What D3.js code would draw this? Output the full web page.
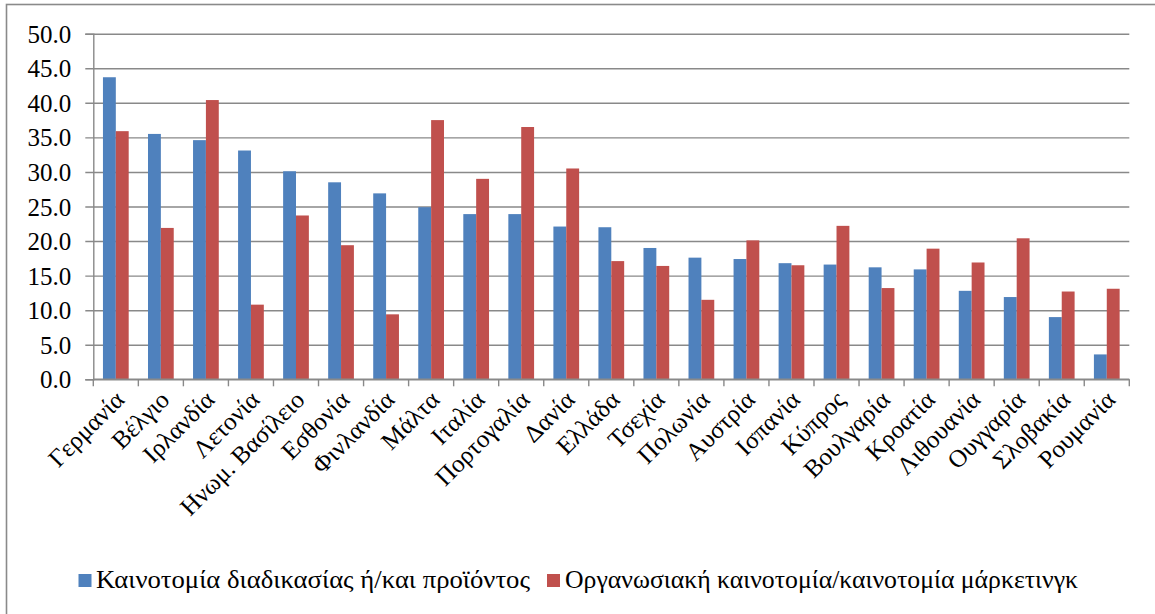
<!doctype html>
<html>
<head>
<meta charset="utf-8">
<script src="https://d3js.org/d3.v7.min.js"></script>
<style>
  body { margin: 0; background: #fff; }
  svg { display: block; }
  svg text { font-family: "Liberation Serif", "Times New Roman", "DejaVu Serif", serif; }
</style>
</head>
<body>
<div id="graph"></div>
<script>
const countries = ["Γερμανία", "Βέλγιο", "Ιρλανδία", "Λετονία", "Ηνωμ. Βασίλειο", "Εσθονία",
  "Φινλανδία", "Μάλτα", "Ιταλία", "Πορτογαλία", "Δανία", "Ελλάδα", "Τσεχία", "Πολωνία",
  "Αυστρία", "Ισπανία", "Κύπρος", "Βουλγαρία", "Κροατία", "Λιθουανία", "Ουγγαρία",
  "Σλοβακία", "Ρουμανία"];
const processProduct = [43.7, 35.5, 34.6, 33.1, 30.1, 28.5, 26.9, 24.9, 23.9, 23.9, 22.1, 22.0,
  19.0, 17.6, 17.4, 16.8, 16.6, 16.2, 15.9, 12.8, 11.9, 9.0, 3.6];
const orgMarketing = [35.9, 21.9, 40.4, 10.8, 23.7, 19.4, 9.4, 37.5, 29.0, 36.5, 30.5, 17.1,
  16.4, 11.5, 20.1, 16.5, 22.2, 13.2, 18.9, 16.9, 20.4, 12.7, 13.1];
const seriesNames = ["Καινοτομία διαδικασίας ή/και προϊόντος", "Οργανωσιακή καινοτομία/καινοτομία μάρκετινγκ"];
const seriesColors = ["#4f81bd", "#c0504d"];
const yTicks = [0, 5, 10, 15, 20, 25, 30, 35, 40, 45, 50];

const W = 1155, H = 614;
const mLeft = 93.3, mRight = 1129.3, mTop = 33.7, mBottom = 379.3;
const width = mRight - mLeft, height = mBottom - mTop;

const svg = d3.select('#graph').append('svg')
  .attr('width', W).attr('height', H);

// outer chart border (runs off the right and bottom edges)
svg.append('rect')
  .attr('x', 6.5).attr('y', 4.5)
  .attr('width', 1300).attr('height', 800)
  .attr('fill', 'none').attr('stroke', '#8a8a8a').attr('stroke-width', 1.6);

const chart = svg.append('g').attr('transform', `translate(${mLeft},${mTop})`);

const y = d3.scaleLinear().domain([0, 50]).range([height, 0]);
const x = d3.scaleBand().domain(countries).range([0, width]).padding(0);
const xs = d3.scaleBand().domain([0, 1]).range([0, x.bandwidth()])
  .paddingInner(0).paddingOuter(0.75);

// y axis with gridlines
const yAxis = chart.append('g')
  .call(d3.axisLeft(y).tickValues(yTicks).tickFormat(d3.format('.1f')).tickSize(8))
  .attr('font-family', null).attr('font-size', null);
yAxis.select('.domain').attr('stroke', '#898989').attr('stroke-width', 1.4);
yAxis.selectAll('.tick line')
  .attr('x1', -8).attr('x2', width)
  .attr('stroke', '#898989').attr('stroke-width', 1.4);
yAxis.selectAll('.tick text')
  .attr('x', -22)
  .attr('dy', '0.34em')
  .style('font-size', '25px')
  .attr('fill', '#000');

// bars
const rows = countries.map((c, i) => ({ c, v: [processProduct[i], orgMarketing[i]] }));
const groups = chart.selectAll('.grp').data(rows).enter().append('g')
  .attr('class', 'grp')
  .attr('transform', d => `translate(${x(d.c)},0)`);
groups.selectAll('rect').data(d => d.v.map((v, k) => ({ v, k }))).enter().append('rect')
  .attr('x', d => xs(d.k))
  .attr('y', d => y(d.v))
  .attr('width', xs.bandwidth())
  .attr('height', d => height - y(d.v))
  .attr('fill', d => seriesColors[d.k]);

// x axis: ticks at category boundaries
const xAxis = chart.append('g').attr('transform', `translate(0,${height})`);
xAxis.append('line')
  .attr('x1', 0).attr('x2', width).attr('y1', 0).attr('y2', 0)
  .attr('stroke', '#898989').attr('stroke-width', 1.4);
const bounds = countries.map(c => x(c)).concat([width]);
xAxis.selectAll('.xt').data(bounds).enter().append('line')
  .attr('x1', d => d).attr('x2', d => d).attr('y1', 0).attr('y2', 7)
  .attr('stroke', '#898989').attr('stroke-width', 1.4);
xAxis.selectAll('.xl').data(countries).enter().append('text')
  .attr('text-anchor', 'end')
  .attr('transform', d => `translate(${x(d) + x.bandwidth() / 2 + 10},${22}) rotate(-45)`)
  .style('font-size', '25px')
  .text(d => d);

// legend
const legend = svg.append('g');
const legX = [78.5, 547], legTextX = [96, 565], legLen = [434, 513];
seriesNames.forEach((name, k) => {
  legend.append('rect')
    .attr('x', legX[k]).attr('y', 574)
    .attr('width', 13).attr('height', 13)
    .attr('fill', seriesColors[k]);
  legend.append('text')
    .attr('x', legTextX[k]).attr('y', 588)
    .attr('textLength', legLen[k])
    .attr('lengthAdjust', 'spacingAndGlyphs')
    .style('font-size', '25px')
    .text(name);
});
</script>
</body>
</html>
